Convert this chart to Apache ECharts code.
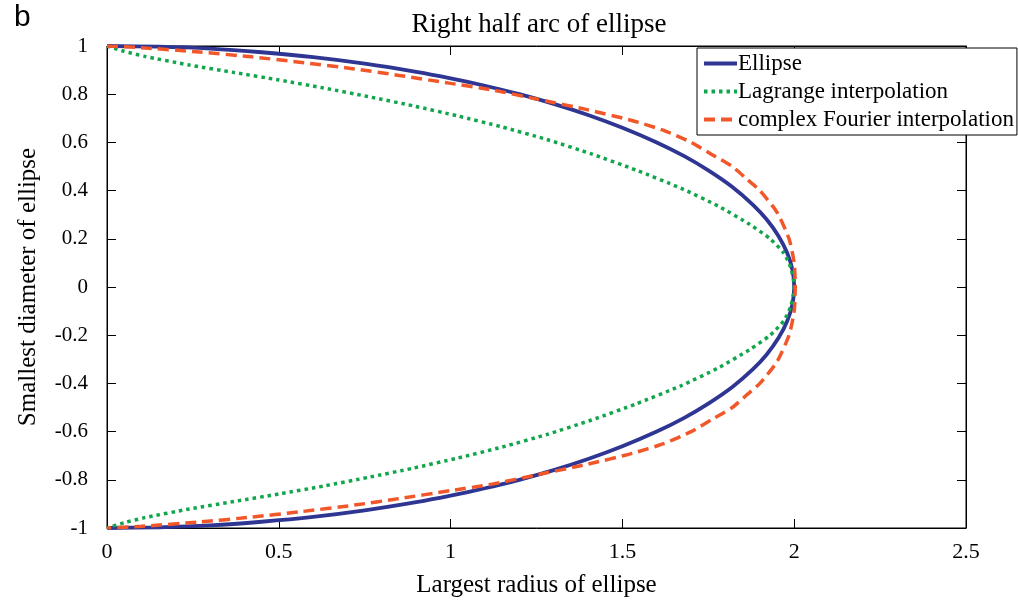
<!DOCTYPE html>
<html>
<head>
<meta charset="utf-8">
<script src="https://cdn.jsdelivr.net/npm/echarts@6/dist/echarts.min.js"></script>
<style>html,body{margin:0;padding:0;background:#fff}#c{width:1018px;height:603px}</style>
</head>
<body>
<div id="c"></div>
<script>
const seriesNames = ['Ellipse', 'Lagrange interpolation', 'complex Fourier interpolation'];
const xTicks = [0, 0.5, 1, 1.5, 2, 2.5];
const yTicks = [-1, -0.8, -0.6, -0.4, -0.2, 0, 0.2, 0.4, 0.6, 0.8, 1];

// Ellipse
const ellipseX = [0, 0.15, 0.3, 0.45, 0.6, 0.75, 0.9, 1.0, 1.1, 1.2, 1.3, 1.4, 1.5, 1.6, 1.68, 1.75, 1.82, 1.88, 1.92, 1.955, 1.98, 1.995, 2.0,
                  1.995, 1.98, 1.955, 1.92, 1.88, 1.82, 1.75, 1.68, 1.6, 1.5, 1.4, 1.3, 1.2, 1.1, 1.0, 0.9, 0.75, 0.6, 0.45, 0.3, 0.15, 0];
const ellipseY = [1, 0.997, 0.989, 0.974, 0.954, 0.927, 0.893, 0.866, 0.835, 0.8, 0.76, 0.714, 0.661, 0.6, 0.543, 0.484, 0.415, 0.341, 0.28, 0.21, 0.14, 0.07, 0,
                  -0.07, -0.14, -0.21, -0.28, -0.341, -0.415, -0.484, -0.543, -0.6, -0.661, -0.714, -0.76, -0.8, -0.835, -0.866, -0.893, -0.927, -0.954, -0.974, -0.989, -0.997, -1];
// Lagrange interpolation
const lagrangeX = [0, 0.05, 0.11, 0.24, 0.37, 0.5, 0.63, 0.76, 0.89, 1.02, 1.15, 1.28, 1.41, 1.54, 1.67, 1.78, 1.87, 1.93, 1.97, 1.99, 2.0,
                   1.99, 1.97, 1.93, 1.87, 1.78, 1.67, 1.54, 1.41, 1.28, 1.15, 1.02, 0.89, 0.76, 0.63, 0.5, 0.37, 0.24, 0.11, 0.05, 0];
const lagrangeY = [1, 0.978, 0.957, 0.921, 0.89, 0.859, 0.826, 0.79, 0.752, 0.71, 0.664, 0.612, 0.552, 0.485, 0.41, 0.335, 0.26, 0.2, 0.14, 0.08, 0,
                   -0.08, -0.14, -0.2, -0.26, -0.335, -0.41, -0.485, -0.552, -0.612, -0.664, -0.71, -0.752, -0.79, -0.826, -0.859, -0.89, -0.921, -0.957, -0.978, -1];
// complex Fourier interpolation
const fourierX = [0, 0.1, 0.27, 0.42, 0.56, 0.72, 0.85, 1.0, 1.12, 1.25, 1.4, 1.53, 1.62, 1.7, 1.76, 1.82, 1.86, 1.9, 1.95, 1.985, 2.0, 2.003,
                  2.0, 1.985, 1.95, 1.9, 1.86, 1.82, 1.76, 1.7, 1.62, 1.53, 1.4, 1.25, 1.12, 1.0, 0.85, 0.72, 0.56, 0.42, 0.27, 0.1, 0];
const fourierY = [1, 0.993, 0.975, 0.955, 0.933, 0.905, 0.878, 0.845, 0.818, 0.78, 0.735, 0.69, 0.65, 0.6, 0.55, 0.5, 0.45, 0.4, 0.31, 0.2, 0.1, 0,
                  -0.1, -0.2, -0.31, -0.4, -0.45, -0.5, -0.55, -0.6, -0.65, -0.69, -0.735, -0.78, -0.818, -0.845, -0.878, -0.905, -0.933, -0.955, -0.975, -0.993, -1];

function pairs(xs, ys) { return xs.map((x, i) => [x, ys[i]]); }

const serif = 'Liberation Serif, Times New Roman, serif';
const chart = echarts.init(document.getElementById('c'), null, {renderer: 'canvas'});
const axisLine = {show: true, onZero: false, lineStyle: {color: '#000', width: 1}};
const axisTick = {show: true, inside: true, length: 9, lineStyle: {color: '#000', width: 1}};
chart.setOption({
  animation: false,
  backgroundColor: '#fff',
  title: [
    {text: 'Right half arc of ellipse', left: 534, textAlign: 'center', top: 6,
     textStyle: {fontFamily: serif, fontSize: 27, fontWeight: 'normal', color: '#000'}},
    {text: 'b', left: 9, top: -2,
     textStyle: {fontFamily: 'Liberation Sans, Arial, sans-serif', fontSize: 30, fontWeight: 'normal', color: '#000'}}
  ],
  legend: {
    orient: 'vertical', left: 697, top: 48,
    itemWidth: 33, itemHeight: 14, itemGap: 5,
    padding: [4, 3, 4, 5],
    backgroundColor: '#fff', borderColor: '#000', borderWidth: 1,
    itemStyle: {opacity: 0},
    lineStyle: {width: 4},
    textStyle: {fontFamily: serif, fontSize: 23, color: '#000', padding: [0, 0, 0, -4]},
    data: seriesNames
  },
  grid: {left: 107, right: 52, top: 46, bottom: 74, show: true, borderColor: '#000', borderWidth: 1},
  xAxis: [
    {type: 'value', min: 0, max: 2.5, interval: 0.5,
     name: 'Largest radius of ellipse', nameLocation: 'middle', nameGap: 45,
     nameTextStyle: {fontFamily: serif, fontSize: 25, color: '#000'},
     axisLine: axisLine, axisTick: axisTick,
     axisLabel: {fontFamily: serif, fontSize: 22, color: '#000', margin: 13,
       formatter: v => { const r = +(+v).toFixed(2); return xTicks.includes(r) ? String(r) : ''; }},
     splitLine: {show: false}},
    {type: 'value', min: 0, max: 2.5, interval: 0.5, position: 'top',
     axisLine: axisLine, axisTick: axisTick,
     axisLabel: {show: false}, splitLine: {show: false}}
  ],
  yAxis: [
    {type: 'value', min: -1, max: 1, interval: 0.2,
     name: 'Smallest diameter of ellipse', nameLocation: 'middle', nameGap: 66, nameRotate: 90,
     nameTextStyle: {fontFamily: serif, fontSize: 25, color: '#000'},
     axisLine: axisLine, axisTick: axisTick,
     axisLabel: {fontFamily: serif, fontSize: 21, color: '#000', margin: 19,
       formatter: v => { const r = +(+v).toFixed(2); return yTicks.includes(r) ? String(r) : ''; }},
     splitLine: {show: false}},
    {type: 'value', min: -1, max: 1, interval: 0.2, position: 'right',
     axisLine: axisLine, axisTick: axisTick,
     axisLabel: {show: false}, splitLine: {show: false}}
  ],
  series: [
    {name: seriesNames[0], type: 'line', data: pairs(ellipseX, ellipseY), showSymbol: false, symbol: 'none',
     smooth: 0.2, z: 3, color: '#2e3592', lineStyle: {color: '#2e3592', width: 3.8}},
    {name: seriesNames[1], type: 'line', data: pairs(lagrangeX, lagrangeY), showSymbol: false, symbol: 'none',
     smooth: 0.2, z: 4, color: '#12a64c', lineStyle: {color: '#12a64c', width: 3.5, type: [3.5, 4]}},
    {name: seriesNames[2], type: 'line', data: pairs(fourierX, fourierY), showSymbol: false, symbol: 'none',
     smooth: 0.2, z: 5, color: '#f2572a', lineStyle: {color: '#f2572a', width: 3.5, type: [11, 6]}}
  ]
});
</script>
</body>
</html>
